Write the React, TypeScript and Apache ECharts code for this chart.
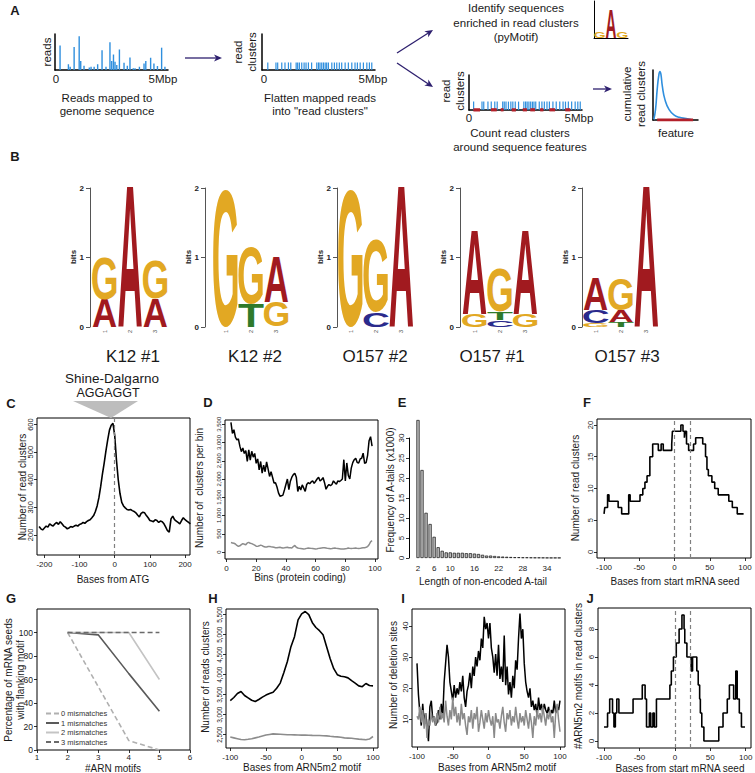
import React, { useEffect, useRef } from "react";
import * as echarts from "echarts";

const FONT = '"Liberation Sans", Arial, Helvetica, sans-serif';
const TXT = "#1a1a1a";
const BLUE = "#2f8fde";
const RED = "#b3202a";
const NAVY = "#2d1f6e";

// ---------------- Panel A ----------------
const A_READ_POS = [0.15, 0.53, 0.61, 0.79, 1.02, 1.09, 1.24, 1.48, 1.56, 1.7, 1.86, 2.06, 2.24, 2.42, 2.5, 2.58, 2.65, 2.73, 2.85, 3.06, 3.21, 3.33, 3.48, 3.56, 3.76, 3.97, 4.05, 4.27, 4.42, 4.58, 4.77, 4.92];
const A_READ_H = [6.8, 1.6, 0.9, 6.4, 9.4, 2.5, 1.2, 0.7, 0.9, 0.9, 1.6, 5.5, 0.9, 7.7, 2.5, 4.3, 2.3, 1.4, 5.7, 2.0, 1.2, 3.5, 0.5, 0.5, 0.9, 1.8, 2.5, 3.4, 1.8, 1.1, 6.2, 0.9];
const A_CLUSTER_POS = [0.16, 0.54, 0.62, 0.81, 0.96, 1.12, 1.23, 1.48, 1.55, 1.63, 1.74, 1.85, 1.94, 2.05, 2.2, 2.44, 2.52, 2.59, 2.67, 2.75, 2.83, 2.9, 2.98, 3.14, 3.26, 3.37, 3.49, 3.6, 3.76, 3.91, 4.07, 4.22, 4.33, 4.46, 4.61, 4.77, 4.89, 5.0];
const A_CLUSTER_H = 2.1;
const A_FEAT_START = [0.15, 0.95, 1.39, 1.89, 2.39, 2.73, 3.18, 3.6, 4.32];
const A_FEAT_END = [0.45, 1.21, 1.52, 2.08, 2.58, 2.95, 3.33, 3.86, 4.55];
const A_CUM_X = [0.15, 0.53, 0.9, 1.29, 1.52, 1.74, 2.05, 2.65, 3.56, 4.7, 5.83, 7.35, 8.5];
const A_CUM_Y = [0.1, 2.1, 6.2, 9.3, 9.9, 9.3, 6.9, 4.1, 2.1, 1.0, 0.55, 0.3, 0.1];
const A_CUM_FEAT = [0.9, 8.9];
const A_MINI_LOGO = [[["G", 0.39]], [["A", 1.67]], [["G", 0.39]]];

// ---------------- Panel B (sequence logos, bits) ----------------
const LOGO_NAMES = ["K12 #1", "K12 #2", "O157 #2", "O157 #1", "O157 #3"];
const LOGO_K12_1 = [[["A", 0.4], ["G", 0.6]], [["A", 2.0]], [["A", 0.4], ["G", 0.55]]];
const LOGO_K12_2 = [[["G", 1.98]], [["T", 0.33], ["G", 0.81]], [["G", 0.36], ["A", 0.64]]];
const LOGO_O157_2 = [[["G", 1.98]], [["C", 0.21], ["G", 1.05]], [["A", 2.0]]];
const LOGO_O157_1 = [[["G", 0.19], ["A", 1.19]], [["C", 0.1], ["T", 0.11], ["G", 0.62]], [["G", 0.19], ["A", 1.19]]];
const LOGO_O157_3 = [[["G", 0.06], ["C", 0.18], ["A", 0.45]], [["T", 0.07], ["A", 0.17], ["G", 0.45]], [["A", 2.0]]];
const LOGOS = [LOGO_K12_1, LOGO_K12_2, LOGO_O157_2, LOGO_O157_1, LOGO_O157_3];
const LOGO_POSITIONS = ["1", "2", "3"];

// ---------------- Panel C ----------------
const C_X_START = -215;
const C_X_STEP = 5;
const C_Y = [230, 222, 218, 225, 232, 228, 240, 235, 232, 240,
  245, 238, 248, 240, 232, 228, 222, 225, 230, 228,
  232, 235, 232, 238, 240, 245, 242, 248, 252, 255,
  262, 270, 285, 305, 335, 375, 420, 460, 505, 545,
  580, 598, 605, 560, 470, 400, 350, 318, 305, 298,
  292, 290, 292, 288, 285, 280, 272, 265, 278, 282,
  280, 270, 262, 252, 250, 248, 255, 252, 245, 250,
  248, 240, 228, 215, 210, 258, 268, 255, 250, 245,
  240, 252, 262, 255, 250, 245, 240];
const C_XTICKS = [-200, -100, 0, 100, 200];
const C_YTICKS = [200, 300, 400, 500, 600];
const C_MARK = [0];

// ---------------- Panel D ----------------
const D_START_BIN = 3;
const D_ALL = [3550, 3250, 3350, 3150, 3070, 3100, 2900, 2750, 2850, 2700,
  2780, 2480, 2800, 2520, 2760, 2600, 2700, 2430, 2550, 2250,
  2480, 2160, 2380, 2200, 2470, 2280, 2070, 2200, 2050, 1890,
  1900, 1780, 1620, 1530, 1540, 1560, 1700, 1850, 2000, 1710,
  1940, 2050, 2120, 2160, 2050, 1660, 1800, 1700, 1840, 1750,
  1660, 1850, 1900, 1870, 1920, 1950, 1880, 1940, 2000, 2050,
  1950, 1980, 2040, 1900, 1720, 1800, 1850, 1820, 1850, 1950,
  1900, 1860, 1950, 1930, 1960, 2000, 2530, 1950, 2440, 2100,
  2000, 2300, 2450, 2530, 2570, 2450, 2440, 2550, 2570, 2710,
  2430, 2450, 2650, 3050, 3160, 2900];
const D_CTRL = [260, 250, 240, 220, 180, 155, 170, 200, 230, 215,
  200, 250, 265, 240, 230, 210, 190, 160, 155, 170,
  190, 175, 150, 140, 135, 150, 155, 145, 140, 130,
  120, 115, 125, 130, 120, 110, 115, 125, 130, 120,
  115, 110, 150, 180, 130, 110, 100, 95, 90, 85,
  90, 100, 110, 105, 100, 95, 90, 85, 90, 100,
  105, 110, 115, 120, 110, 100, 95, 90, 95, 105,
  110, 100, 95, 90, 85, 80, 85, 90, 95, 110,
  100, 95, 100, 105, 110, 100, 95, 100, 110, 115,
  120, 130, 150, 200, 280, 310];
const D_XTICKS = [0, 20, 40, 60, 80, 100];
const D_YTICKS = [0, 500, 1000, 1500, 2000, 2500, 3000, 3500];

// ---------------- Panel E ----------------
const E_LEN = [2, 3, 4, 5, 6, 7, 8, 9, 10, 11, 12, 13, 14, 15, 16, 17, 18, 19, 20, 21, 22, 23, 24, 25, 26, 27, 28, 29, 30, 31, 32, 33, 34, 35, 36, 37];
const E_FREQ = [34.5, 22, 11.3, 8.5, 5.3, 2.7, 1.8, 1.4, 1.4, 1.3, 1.3, 1.3, 1.2, 1.2, 1.1, 1.0, 0.8, 0.6, 0.6, 0.5, 0.4, 0.35, 0.3, 0.25, 0.2, 0.2, 0.15, 0.15, 0.12, 0.1, 0.1, 0.08, 0.06, 0.05, 0.05, 0.05];
const E_XLABELS = [2, 6, 10, 16, 22, 28, 34];
const E_YTICKS = [0, 5, 10, 15, 20, 25, 30];

// ---------------- Panel F (step) ----------------
const F_X = [-100, -99, -95, -93, -80, -75, -65, -63, -49, -45, -42, -39, -35, -31, -23, -19, -16, -4, -3, 9, 12, 14, 15, 17, 20, 27, 30, 40, 44, 46, 48, 53, 57, 62, 77, 82, 89, 98];
const F_Y = [6, 7, 9, 8, 7, 6, 9, 8, 9, 10, 11, 12, 15, 17, 16, 17, 16, 17, 19, 20, 19, 18, 19, 17, 16, 17, 18, 17, 15, 13, 12, 11, 10, 9, 8, 7, 6, 6];
const F_XTICKS = [-100, -50, 0, 50, 100];
const F_YTICKS = [0, 5, 10, 15, 20];
const F_MARK = [0, 22];

// ---------------- Panel G ----------------
const G_MOTIFS = [2, 3, 4, 5];
const G_MM0 = [100, 54, 8, 0];
const G_MM1 = [100, 98, 65, 33];
const G_MM2 = [100, 100, 100, 60];
const G_MM3 = [100, 100, 100, 100];
const G_NAMES = ["0 mismatches", "1 mismatches", "2 mismatches", "3 mismatches"];
const G_XTICKS = [1, 2, 3, 4, 5, 6];
const G_YTICKS = [0, 20, 40, 60, 80, 100];

// ---------------- Panel H ----------------
const H_X_START = -100;
const H_X_STEP = 5;
const H_MOTIF = [3350, 3430, 3530, 3580, 3480, 3420, 3360, 3330, 3380, 3440, 3490, 3530, 3560, 3660, 3790, 4050, 4330, 4700, 4950, 5370, 5520, 5580, 5500, 5300, 5180, 5100, 5000, 4700, 4400, 4150, 4000, 3960, 3950, 3920, 3850, 3790, 3720, 3700, 3780, 3730, 3720];
const H_CTRL = [2440, 2420, 2400, 2380, 2375, 2385, 2400, 2420, 2440, 2465, 2490, 2505, 2520, 2515, 2510, 2505, 2500, 2498, 2495, 2492, 2490, 2488, 2485, 2482, 2480, 2478, 2475, 2470, 2460, 2452, 2445, 2435, 2420, 2415, 2410, 2400, 2390, 2382, 2375, 2390, 2455];
const H_XTICKS = [-100, -50, 0, 50, 100];
const H_YTICKS = [2500, 3000, 3500, 4000, 4500, 5000, 5500];

// ---------------- Panel I ----------------
const I_X_START = -100;
const I_X_STEP = 2;
const I_MOTIF = [28, 18, 12, 8, 15, 9, 12, 8, 3, 14,
  16, 10, 11, 8, 9, 13, 10, 15, 11, 22,
  28, 34, 30, 22, 19, 16, 21, 17, 20, 18,
  22, 19, 24, 17, 14, 19, 21, 25, 20, 27,
  24, 30, 27, 32, 29, 36, 33, 43, 39, 41,
  36, 41, 33, 30, 25, 31, 24, 34, 23, 27,
  22, 37, 21, 27, 18, 22, 17, 24, 20, 29,
  26, 36, 44, 36, 39, 28, 22, 19, 17, 20,
  14, 16, 13, 15, 11, 17, 13, 15, 12, 15,
  13, 12, 14, 11, 13, 12, 16, 12, 14, 13,
  16];
const I_CTRL = [11, 10, 14, 9, 13, 7, 12, 4, 10, 8,
  12, 9, 11, 8, 12, 9, 14, 10, 12, 9,
  16, 11, 8, 13, 10, 17, 11, 14, 9, 12,
  8, 15, 10, 12, 8, 5, 11, 9, 13, 7,
  12, 10, 14, 6, 9, 13, 10, 7, 12, 9,
  13, 10, 8, 11, 4, 12, 9, 10, 7, 11,
  14, 9, 6, 12, 10, 13, 8, 11, 9, 14,
  10, 7, 12, 9, 11, 8, 13, 10, 7, 12,
  9, 4, 11, 8, 13, 10, 12, 9, 14, 11,
  8, 12, 10, 13, 9, 11, 4, 12, 15, 10,
  6];
const I_XTICKS = [-100, -50, 0, 50, 100];
const I_YTICKS = [10, 20, 30, 40];

// ---------------- Panel J (step) ----------------
const J_X = [-100, -95, -92, -88, -86, -84, -82, -79, -59, -46, -42, -40, -36, -34, -31, -29, -26, -7, -5, -2, 2, 6, 10, 13, 14, 17, 23, 25, 31, 33, 35, 36, 38, 41, 62, 68, 74, 77, 83, 86, 88, 91, 94, 99];
const J_Y = [1, 2, 3, 2, 1, 2, 3, 2, 3, 4, 3, 1, 2, 1, 2, 1, 3, 4, 5, 6, 7, 8, 9, 8, 7, 6, 5, 6, 5, 4, 3, 2, 1, 0, 1, 2, 3, 4, 3, 5, 3, 2, 1, 1];
const J_XTICKS = [-100, -50, 0, 50, 100];
const J_YTICKS = [0, 2, 4, 6, 8];
const J_MARK = [0, 22];

// ---------------- helpers ----------------
const LETTERS = ["A", "C", "G", "T"];
const LETTER_COLOR: Record<string, string> = { A: "#a11a1f", C: "#2a2a8c", G: "#e2a823", T: "#2f7a2b" };
const LETTER_INK: Record<string, number> = { A: 0.71, C: 0.64, G: 0.69, T: 0.58 };
const LETTER_CAP: Record<string, number> = { A: 0.688, C: 0.712, G: 0.712, T: 0.688 };
const LETTER_DROP: Record<string, number> = { A: 0, C: 0.012, G: 0.012, T: 0 };
const CENTRAL = 0.3467;

function logoData(cols: any[]) {
  const out: number[][] = [];
  cols.forEach((stack: any[], ci: number) => {
    let b = 0;
    stack.forEach(([l, h]: [string, number]) => {
      out.push([ci, b, b + h, LETTERS.indexOf(l)]);
      b += h;
    });
  });
  return out;
}

function renderLetter(_p: any, api: any) {
  const col = api.value(0);
  const b = api.value(1);
  const t = api.value(2);
  const letter = LETTERS[api.value(3)];
  const pb = api.coord([col, b]);
  const pt = api.coord([col, t]);
  const bw = api.size([1, 0])[0];
  const h = pb[1] - pt[1];
  const F = 100;
  const sy = h / (LETTER_CAP[letter] * F);
  const sx = (bw - 0.6) / (LETTER_INK[letter] * F);
  const baseline = pb[1] - LETTER_DROP[letter] * F * sy;
  return {
    type: "text",
    x: pb[0],
    y: baseline - CENTRAL * F * sy,
    scaleX: sx,
    scaleY: sy,
    style: {
      text: letter,
      fontSize: F,
      fontWeight: "bold",
      fontFamily: FONT,
      fill: LETTER_COLOR[letter],
      align: "center",
      textAlign: "center",
      verticalAlign: "middle",
      textVerticalAlign: "middle",
    },
  };
}

function T(text: string, x: number, y: number, size: number, opt: any = {}) {
  return {
    type: "text",
    x,
    y,
    rotation: opt.rot ? Math.PI / 2 : 0,
    silent: true,
    style: {
      text,
      fontSize: size,
      fontFamily: FONT,
      fontWeight: opt.bold ? "bold" : "normal",
      fill: opt.color || TXT,
      align: "center",
      textAlign: "center",
      verticalAlign: "middle",
      textVerticalAlign: "middle",
      lineHeight: opt.lh || size * 1.2,
    },
  };
}

function arrow(x1: number, y1: number, x2: number, y2: number) {
  const a = Math.atan2(y2 - y1, x2 - x1);
  const L = 8, W = 3.6;
  const bx = x2 - L * Math.cos(a), by = y2 - L * Math.sin(a);
  return [
    { type: "line", silent: true, shape: { x1, y1, x2: bx + 2 * Math.cos(a), y2: by + 2 * Math.sin(a) }, style: { stroke: NAVY, lineWidth: 1.3 } },
    { type: "polygon", silent: true, shape: { points: [[x2, y2], [bx + W * Math.sin(a), by - W * Math.cos(a)], [bx + 2.2 * Math.cos(a), by + 2.2 * Math.sin(a)], [bx - W * Math.sin(a), by + W * Math.cos(a)]] }, style: { fill: NAVY } },
  ];
}

const miniX = (gi: number, min: number, max: number) => ({
  gridIndex: gi, type: "value", min, max,
  axisLine: { show: true, onZero: false, lineStyle: { color: "#000", width: 1.5 } },
  axisTick: { show: false }, axisLabel: { show: false }, splitLine: { show: false },
});
const miniY = (gi: number, min: number, max: number) => ({
  gridIndex: gi, type: "value", min, max,
  axisLine: { show: true, onZero: false, lineStyle: { color: "#000", width: 1.5 } },
  axisTick: { show: false }, axisLabel: { show: false }, splitLine: { show: false },
});

function rX(gi: number, min: number, max: number, ticks: number[], size = 8, margin = 5, showTick = true) {
  return {
    gridIndex: gi, type: "value", min, max,
    axisLine: { show: false, onZero: false },
    axisTick: { show: showTick, inside: false, length: 3, customValues: ticks, lineStyle: { color: "#000", width: 0.8 } },
    axisLabel: { show: true, customValues: ticks, fontSize: size, color: TXT, fontFamily: FONT, margin },
    splitLine: { show: false },
  };
}
function rY(gi: number, min: number, max: number, ticks: number[], size = 7, margin = 4, rotate = 90, showLine = false) {
  return {
    gridIndex: gi, type: "value", min, max,
    axisLine: { show: showLine, onZero: false, lineStyle: { color: "#000", width: 1 } },
    axisTick: { show: true, inside: false, length: 3, customValues: ticks, lineStyle: { color: "#000", width: 0.8 } },
    axisLabel: { show: true, customValues: ticks, fontSize: size, color: TXT, fontFamily: FONT, margin, rotate },
    splitLine: { show: false },
  };
}

const boxGrid = (left: number, top: number, width: number, height: number) => ({
  left, top, width, height, show: true, borderColor: "#000", borderWidth: 1, backgroundColor: "transparent", outerBoundsMode: "none", containLabel: false,
});
const plainGrid = (left: number, top: number, width: number, height: number) => ({
  left, top, width, height, show: false, outerBoundsMode: "none", containLabel: false,
});

const dashMark = (vals: number[]) => ({
  silent: true,
  symbol: ["none", "none"],
  label: { show: false },
  lineStyle: { type: [4, 3], color: "#808080", width: 1.2 },
  data: vals.map((v) => ({ xAxis: v })),
});

function buildOption() {
  const LOGO_LEFT = [92, 213, 338, 462, 583];
  const LOGO_AXIS_OFF = [2, 8, 1, 2, 1];
  const LOGO_LABEL_X = [133, 255, 375, 492, 627];

  const grids: any[] = [
    plainGrid(55, 34, 113, 36),
    plainGrid(262, 34, 113, 36),
    plainGrid(469, 75, 113, 35),
    plainGrid(653, 70, 45, 50),
    plainGrid(594, 1, 34, 37),
  ];
  LOGO_LEFT.forEach((l) => grids.push(plainGrid(l, 188, 76, 139)));
  grids.push(boxGrid(37, 418, 153, 137)); // 10 C
  grids.push(boxGrid(225, 420, 153, 139)); // 11 D
  grids.push(plainGrid(409, 438, 153, 120)); // 12 E
  grids.push(boxGrid(597, 419, 154, 139)); // 13 F
  grids.push(boxGrid(37, 609, 153, 141)); // 14 G
  grids.push(boxGrid(226, 609, 152, 139)); // 15 H
  grids.push(boxGrid(412, 609, 153, 138)); // 16 I
  grids.push(boxGrid(598, 608, 153, 140)); // 17 J

  const xAxis: any[] = [
    miniX(0, -0.08, 5.06),
    miniX(1, -0.11, 5.15),
    miniX(2, -0.05, 5.08),
    miniX(3, -0.03, 10),
    { gridIndex: 4, type: "category", data: LOGO_POSITIONS, axisLine: { show: true, lineStyle: { color: "#000", width: 1 } }, axisTick: { show: false }, axisLabel: { show: false } },
  ];
  const yAxis: any[] = [
    miniY(0, 0, 10),
    miniY(1, 0, 10),
    miniY(2, 0, 10),
    miniY(3, 0, 10.2),
    { gridIndex: 4, type: "value", min: 0, max: 2.2, axisLine: { show: true, lineStyle: { color: "#000", width: 1 } }, axisTick: { show: false }, axisLabel: { show: false }, splitLine: { show: false } },
  ];
  LOGO_LEFT.forEach((_l, i) => {
    xAxis.push({
      gridIndex: 5 + i, type: "category", data: LOGO_POSITIONS,
      axisLine: { show: false }, axisTick: { show: false },
      axisLabel: { show: true, rotate: 90, fontSize: 5.5, color: "#444", fontFamily: FONT, margin: 3 },
    });
    yAxis.push({
      gridIndex: 5 + i, type: "value", min: 0, max: 2, offset: LOGO_AXIS_OFF[i],
      axisLine: { show: true, lineStyle: { color: "#555", width: 1 } },
      axisTick: { show: true, length: 4, customValues: [0, 1, 2], lineStyle: { color: "#555", width: 1 } },
      axisLabel: { show: true, customValues: [0, 1, 2], fontSize: 8, fontWeight: "bold", color: "#222", fontFamily: FONT, margin: 6 },
      splitLine: { show: false },
    });
  });
  xAxis.push(rX(10, -221, 214, C_XTICKS));
  yAxis.push(rY(10, 127, 624, C_YTICKS, 7.5, 3));
  xAxis.push(rX(11, -1, 102, D_XTICKS));
  yAxis.push(rY(11, -191, 3617, D_YTICKS, 6, 3));
  xAxis.push({ ...rX(12, -0.23, 37.7, E_XLABELS, 8, 6, false), axisLine: { show: false } });
  yAxis.push(rY(12, 0, 30, E_YTICKS, 8, 4, 90, true));
  xAxis.push(rX(13, -110, 108.5, F_XTICKS));
  yAxis.push(rY(13, -0.94, 20.94, F_YTICKS, 7.5, 3));
  xAxis.push(rX(14, 1, 6, G_XTICKS, 8, 3));
  yAxis.push(rY(14, 0, 120, G_YTICKS, 8.5, 4, 0));
  xAxis.push(rX(15, -106, 107, H_XTICKS));
  yAxis.push(rY(15, 2167, 5642, H_YTICKS, 6.5, 3));
  xAxis.push(rX(16, -107, 107, I_XTICKS));
  yAxis.push(rY(16, 1.1, 45.5, I_YTICKS, 8, 3));
  xAxis.push(rX(17, -108.5, 107.5, J_XTICKS));
  yAxis.push(rY(17, -0.5, 9.5, J_YTICKS, 8, 3));

  const line = (idx: number, data: any[], color: string, width = 1.6, extra: any = {}) => ({
    type: "line", xAxisIndex: idx, yAxisIndex: idx, data, symbol: "none", showSymbol: false,
    lineStyle: { color, width }, itemStyle: { color }, silent: true, z: 3, ...extra,
  });

  const series: any[] = [
    { type: "bar", xAxisIndex: 0, yAxisIndex: 0, data: A_READ_POS.map((p, i) => [p, A_READ_H[i]]), barWidth: 1.4, itemStyle: { color: BLUE }, silent: true },
    { type: "bar", xAxisIndex: 1, yAxisIndex: 1, data: A_CLUSTER_POS.map((p) => [p, A_CLUSTER_H]), barWidth: 1.2, itemStyle: { color: BLUE }, silent: true },
    { type: "bar", xAxisIndex: 2, yAxisIndex: 2, data: A_CLUSTER_POS.map((p) => [p, A_CLUSTER_H + 0.3]), barWidth: 1.2, itemStyle: { color: BLUE }, silent: true },
    {
      type: "custom", xAxisIndex: 2, yAxisIndex: 2, silent: true, z: 5,
      data: A_FEAT_START.map((s, i) => [s, A_FEAT_END[i]]),
      encode: { x: [0, 1] },
      renderItem: (_p: any, api: any) => {
        const p0 = api.coord([api.value(0), 0]);
        const p1 = api.coord([api.value(1), 0]);
        return { type: "rect", shape: { x: p0[0], y: p0[1] - 1.8, width: p1[0] - p0[0], height: 3.2 }, style: { fill: RED } };
      },
    },
    line(3, A_CUM_X.map((x, i) => [x, A_CUM_Y[i]]), BLUE, 1.6, { smooth: true }),
    line(3, A_CUM_FEAT.map((x) => [x, 0]), RED, 3.2, { z: 5 }),
    { type: "custom", xAxisIndex: 4, yAxisIndex: 4, silent: true, data: logoData(A_MINI_LOGO), renderItem: renderLetter },
  ];
  LOGOS.forEach((lg, i) => {
    series.push({ type: "custom", xAxisIndex: 5 + i, yAxisIndex: 5 + i, silent: true, data: logoData(lg), renderItem: renderLetter });
  });
  series.push(line(10, C_Y.map((v, i) => [C_X_START + i * C_X_STEP, v]), "#000", 1.6, { markLine: dashMark(C_MARK) }));
  series.push(line(11, D_ALL.map((v, i) => [D_START_BIN + i, v]), "#000", 1.5));
  series.push(line(11, D_CTRL.map((v, i) => [D_START_BIN + i, v]), "#8c8c8c", 1.5));
  series.push({
    type: "bar", xAxisIndex: 12, yAxisIndex: 12, clip: false, silent: true,
    data: E_LEN.map((l, i) => [l, E_FREQ[i]]), barWidth: 3.2,
    itemStyle: { color: "#bdbdbd", borderColor: "#111", borderWidth: 0.7 },
  });
  series.push(line(13, F_X.map((x, i) => [x, F_Y[i]]), "#000", 1.6, { step: "end", markLine: dashMark(F_MARK) }));
  const gStyles = [
    { color: "#b0b0b0", type: [5, 3] },
    { color: "#5a5a5a", type: "solid" },
    { color: "#c4c4c4", type: "solid" },
    { color: "#6a6a6a", type: [5, 3] },
  ];
  [G_MM0, G_MM1, G_MM2, G_MM3].forEach((arr, k) => {
    series.push({
      type: "line", name: G_NAMES[k], xAxisIndex: 14, yAxisIndex: 14, symbol: "none", showSymbol: false, silent: true,
      data: G_MOTIFS.map((m, i) => [m, arr[i]]),
      lineStyle: { color: gStyles[k].color, width: 1.6, type: gStyles[k].type },
      itemStyle: { color: gStyles[k].color },
      z: k === 3 ? 4 : 3,
    });
  });
  series.push(line(15, H_MOTIF.map((v, i) => [H_X_START + i * H_X_STEP, v]), "#000", 1.6));
  series.push(line(15, H_CTRL.map((v, i) => [H_X_START + i * H_X_STEP, v]), "#8c8c8c", 1.6));
  series.push(line(16, I_MOTIF.map((v, i) => [I_X_START + i * I_X_STEP, v]), "#000", 1.5));
  series.push(line(16, I_CTRL.map((v, i) => [I_X_START + i * I_X_STEP, v]), "#8a8a8a", 1.5, { z: 4 }));
  series.push(line(17, J_X.map((x, i) => [x, J_Y[i]]), "#000", 1.6, { step: "end", markLine: dashMark(J_MARK) }));

  const graphic: any[] = [
    T("A", 15, 10, 13, { bold: true }),
    T("B", 15, 156, 13, { bold: true }),
    T("C", 11, 403, 13, { bold: true }),
    T("D", 208, 402, 13, { bold: true }),
    T("E", 402, 402, 13, { bold: true }),
    T("F", 587, 402, 13, { bold: true }),
    T("G", 11, 598, 13, { bold: true }),
    T("H", 213, 598, 13, { bold: true }),
    T("I", 403, 598, 13, { bold: true }),
    T("J", 590, 598, 13, { bold: true }),
    T("reads", 47, 52, 11.5, { rot: true }),
    T("0", 56, 79, 11.5), T("5Mbp", 163, 79, 11.5),
    T("Reads mapped to", 107, 98, 11.5), T("genome sequence", 107, 111, 11.5),
    T("read\nclusters", 245, 52, 11.5, { rot: true, lh: 14 }),
    T("0", 264, 79, 11.5), T("5Mbp", 373, 79, 11.5),
    T("Flatten mapped reads", 320, 98, 11.5), T("into \"read clusters\"", 320, 111, 11.5),
    T("Identify sequences", 516, 8, 11.5), T("enriched in read clusters", 516, 23, 11.5), T("(pyMotif)", 516, 37, 11.5),
    T("read\nclusters", 453, 91, 11.5, { rot: true, lh: 14 }),
    T("0", 469, 118, 11.5), T("5Mbp", 579, 118, 11.5),
    T("Count read clusters", 520, 133, 11.5), T("around sequence features", 520, 147, 11.5),
    T("cumulative\nread clusters", 634, 94, 11.5, { rot: true, lh: 14 }),
    T("feature", 676, 133, 11.5),
    ...arrow(185, 58, 222, 58),
    ...arrow(397, 53, 433, 30),
    ...arrow(397, 63, 433, 87),
    ...arrow(593, 89, 612, 89),
    T("Shine-Dalgarno", 112, 378, 13.5),
    T("AGGAGGT", 108, 393, 12.5),
    { type: "polygon", silent: true, shape: { points: [[73, 401], [138, 401], [111, 418]] }, style: { fill: "#bdbdbd" } },
    T("Number of read clusters", 22, 487, 10, { rot: true }),
    T("Bases from ATG", 113, 579, 10),
    T("Number of  clusters per bin", 199, 488, 10, { rot: true }),
    T("Bins (protein coding)", 300, 577, 10),
    T("Frequency of A-tails (x1000)", 390, 490, 10, { rot: true }),
    T("Length of non-encoded A-tail", 483, 581, 10),
    T("Number of read clusters", 575, 488, 10, { rot: true }),
    T("Bases from start mRNA seed", 675, 581, 10),
    T("Percentage of mRNA seeds", 8, 680, 10, { rot: true }),
    T("with flanking motif", 20, 680, 10, { rot: true }),
    T("#ARN motifs", 113, 768, 10),
    T("Number of reads clusters", 205, 677, 10, { rot: true }),
    T("Bases from ARN5m2 motif", 302, 767, 10),
    T("Number of deletion sites", 393, 675, 10, { rot: true }),
    T("Bases from ARN5m2 motif", 497, 767, 10),
    T("#ARN5m2 motifs in read clusters", 578, 676, 10, { rot: true }),
    T("Bases from start mRNA seed", 680, 768, 10),
  ];
  LOGO_LEFT.forEach((l, i) => {
    graphic.push(T("bits", l - LOGO_AXIS_OFF[i] - 17, 257, 8, { rot: true, bold: true }));
    graphic.push(T(LOGO_NAMES[i], LOGO_LABEL_X[i], 356, 17));
  });

  return {
    animation: false,
    backgroundColor: "#fff",
    textStyle: { fontFamily: FONT },
    grid: grids,
    xAxis,
    yAxis,
    series,
    legend: {
      left: 40, top: 704, orient: "vertical", itemWidth: 13, itemHeight: 6, itemGap: 0.5, padding: 5,
      selectedMode: false,
      data: G_NAMES,
      itemStyle: { opacity: 0 },
      textStyle: { fontSize: 7.5, lineHeight: 9, height: 9, color: "#333", fontFamily: FONT, padding: [0, 0, 0, -3] },
    },
    graphic,
  };
}

export default function App() {
  const ref = useRef<HTMLDivElement>(null);
  useEffect(() => {
    const chart = echarts.init(ref.current!, undefined, { renderer: "svg" });
    chart.setOption(buildOption() as any);
    return () => chart.dispose();
  }, []);
  return (
    <div
      ref={ref}
      style={{ position: "absolute", left: 0, top: 0, width: 755, height: 773, background: "#fff" }}
    />
  );
}
